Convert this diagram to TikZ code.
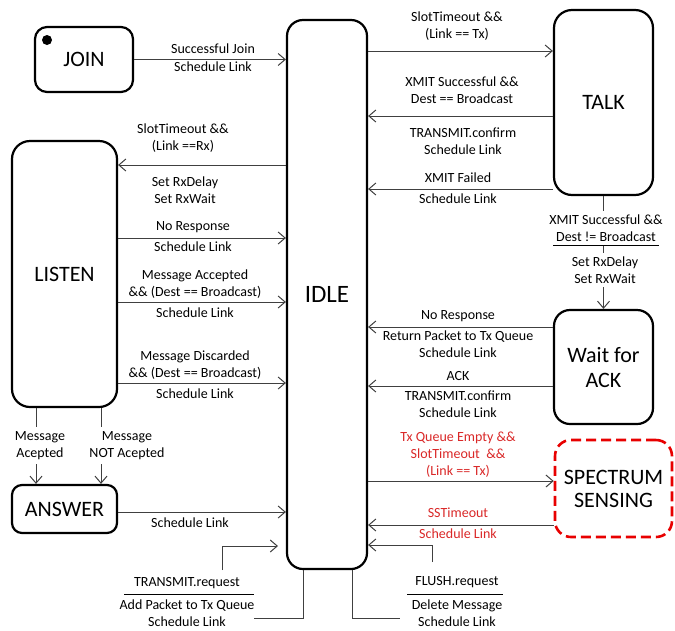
\documentclass[tikz,border=0pt]{standalone}
\usepackage{fontspec}
\setmainfont{Carlito}
\usetikzlibrary{arrows.meta}
\definecolor{linegray}{RGB}{64,64,64}
\definecolor{alertred}{RGB}{218,40,40}
\definecolor{boxred}{RGB}{232,0,0}
\begin{document}
\begin{tikzpicture}[x=1pt,y=-1pt,
  state/.style={draw=black, line width=2.2pt, rounded corners=14pt, inner sep=0pt,
                font=\fontsize{22}{25}\selectfont, align=center},
  lbl/.style={font=\fontsize{14}{17}\selectfont, align=center, inner sep=0pt},
  redlbl/.style={lbl, text=alertred},
  covered/.style={lbl, fill=white, inner xsep=2pt, inner ysep=4pt},
  wire/.style={draw=linegray, line width=1pt},
  flow/.style={wire, -{Straight Barb[length=7pt,width=12pt,line width=1pt]}},
  rule/.style={draw=black, line width=0.8pt},
]
\fill[white] (0,0) rectangle (675,630);
\useasboundingbox (0,0) rectangle (675,630);

% states
\node[state, minimum width=98pt, minimum height=65pt, rounded corners=12pt] (join) at (84,59.5) {JOIN};
\fill (47,40) circle (5pt);
\node[state, minimum width=80pt, minimum height=549pt, rounded corners=16pt,
      font=\fontsize{25}{30}\selectfont] (idle) at (327,294.5) {IDLE};
\node[state, minimum width=99pt, minimum height=185pt, rounded corners=18pt] (talk) at (603.5,102.5) {TALK};
\node[state, minimum width=105pt, minimum height=266pt, rounded corners=18pt] (listen) at (64.5,274) {LISTEN};
\node[state, minimum width=99pt, minimum height=114pt, rounded corners=16pt] (wait) at (603.5,367) {Wait for\\ACK};
\node[state, draw=boxred, line width=2.6pt, dash pattern=on 10pt off 5pt, rounded corners=16pt,
      minimum width=117pt, minimum height=97pt, font=\fontsize{22}{23}\selectfont] (spec) at (613.5,488.5) {SPECTRUM\\SENSING};
\node[state, minimum width=105pt, minimum height=48pt, rounded corners=10pt] (answer) at (64.5,509) {ANSWER};

% transitions into and out of IDLE
\draw[flow] (join.east) -- (join.east -| idle.west);
\draw[flow] (idle.west |- 0,165) -- (listen.east |- 0,165);
\draw[flow] (listen.east |- 0,238) -- (idle.west |- 0,238);
\draw[flow] (listen.east |- 0,302) -- (idle.west |- 0,302);
\draw[flow] (listen.east |- 0,383) -- (idle.west |- 0,383);
\draw[flow] (answer.east |- 0,512) -- (idle.west |- 0,512);
\draw[flow] (idle.east |- 0,51) -- (talk.west |- 0,51);
\draw[flow] (talk.west |- 0,116) -- (idle.east |- 0,116);
\draw[flow] (talk.west |- 0,189) -- (idle.east |- 0,189);
\draw[flow] (talk.south) -- (wait.north);
\draw[flow] (wait.west |- 0,327) -- (idle.east |- 0,327);
\draw[flow] (wait.west |- 0,386) -- (idle.east |- 0,386);
\draw[flow] (idle.east |- 0,481) -- (spec.west |- 0,481);
\draw[flow] (spec.west |- 0,525) -- (idle.east |- 0,525);
\draw[flow] (listen.south -| 36,0) -- (answer.north -| 36,0);
\draw[flow] (listen.south -| 101,0) -- (answer.north -| 101,0);

% service primitives below IDLE
\coordinate (flushfoot) at (432,562);
\coordinate (txfoot) at (222,570);
\coordinate (txtip) at (278,546);
\coordinate (flushend) at (400,618);
\coordinate (txend) at (254,618);
\draw[flow] (flushfoot) |- (idle.east |- 0,545);
\draw[flow] (txfoot) |- (txtip);
\draw[wire] (idle.south -| 352,0) |- (flushend);
\draw[wire] (idle.south -| 303,0) |- (txend);

% labels
\node[lbl] (l-join-a) at (213,49) {Successful Join};
\node[lbl] (l-join-b) at (213,67) {Schedule Link};
\node[lbl] (l-rx-a) at (183,138.5) {SlotTimeout \&\&\\(Link ==Rx)};
\node[lbl] (l-rx-b) at (185,190) {Set RxDelay\\Set RxWait};
\node[lbl] (l-nr-a) at (193,227) {No Response};
\node[lbl] (l-nr-b) at (193,247) {Schedule Link};
\node[lbl] (l-ma-a) at (195,284) {Message Accepted\\\&\& (Dest == Broadcast)};
\node[lbl] (l-ma-b) at (195,313) {Schedule Link};
\node[lbl] (l-md-a) at (195,365.5) {Message Discarded\\\&\& (Dest == Broadcast)};
\node[lbl] (l-md-b) at (195,394) {Schedule Link};
\node[lbl] (l-ans) at (190,523) {Schedule Link};
\node[covered] (l-acc) at (40,445.5) {Message\\Acepted};
\node[covered] (l-nacc) at (127,445.5) {Message\\NOT Acepted};

\node[lbl] (l-tx) at (457,26) {SlotTimeout \&\&\\(Link == Tx)};
\node[lbl] (l-bc-a) at (462,90.5) {XMIT Successful \&\&\\Dest == Broadcast};
\node[lbl] (l-bc-b) at (463,141.5) {TRANSMIT.confirm\\Schedule Link};
\node[lbl] (l-fail-a) at (458,178) {XMIT Failed};
\node[lbl] (l-fail-b) at (458,199) {Schedule Link};
\node[covered] (l-uc-a) at (606,228) {XMIT Successful \&\&\\Dest != Broadcast};
\node[covered] (l-uc-b) at (605,270) {Set RxDelay\\Set RxWait};
\draw[rule] (553,245) -- (659,245);
\node[lbl] (l-to-a) at (458,316) {No Response};
\node[lbl] (l-to-b) at (458,344.5) {Return Packet to Tx Queue\\Schedule Link};
\node[lbl] (l-ack-a) at (458,376) {ACK};
\node[lbl] (l-ack-b) at (458,404) {TRANSMIT.confirm\\Schedule Link};
\node[redlbl] (l-ss-a) at (458,455) {Tx Queue Empty \&\&\\SlotTimeout~~\&\&\\(Link == Tx)};
\node[redlbl] (l-ss-b) at (458,513) {SSTimeout};
\node[redlbl] (l-ss-c) at (458,534) {Schedule Link};

\node[lbl] (l-treq-a) at (187,583) {TRANSMIT.request};
\draw[rule] (124,594) -- (254,594);
\node[lbl] (l-treq-b) at (187,613.5) {Add Packet to Tx Queue\\Schedule Link};
\node[lbl] (l-freq-a) at (457,582) {FLUSH.request};
\draw[rule] (407,594) -- (503,594);
\node[lbl] (l-freq-b) at (457,613.5) {Delete Message\\Schedule Link};
\end{tikzpicture}
\end{document}
